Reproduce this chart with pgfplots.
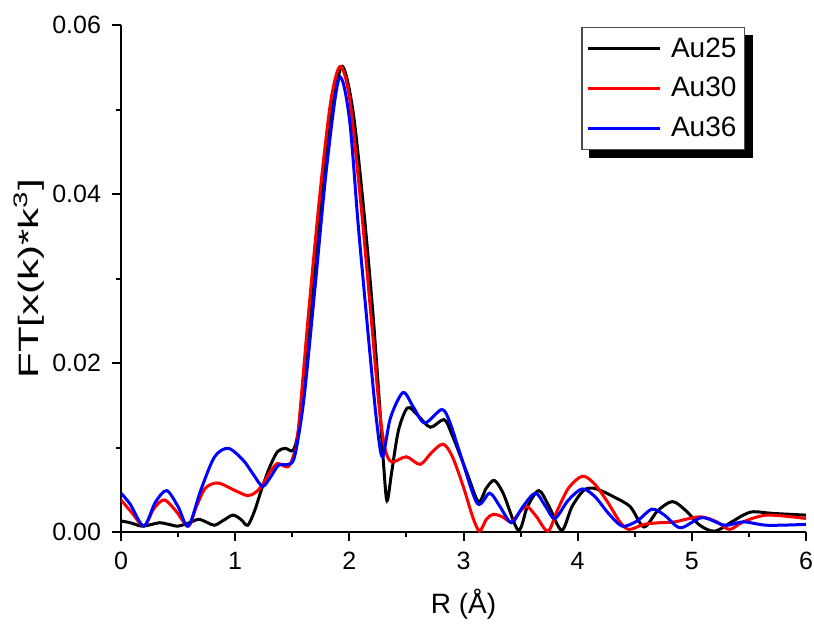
\documentclass[border=0pt]{standalone}
\usepackage{pgfplots}
\pgfplotsset{compat=1.18}
\usepackage{fontspec}
\setmainfont{Liberation Sans}
\pgfdeclarelayer{background}
\pgfsetlayers{background,main}
\pgfplotsset{
  legend image code/.code={\draw[#1] (0pt,0pt) -- (36pt,0pt);},
}
\begin{document}
\begin{tikzpicture}
\useasboundingbox (-60.5pt,-45.5pt) rectangle (346.5pt,266pt);
\begin{axis}[
  at={(0,0)}, anchor=south west,
  scale only axis, width=342.5pt, height=253.5pt,
  xmin=0, xmax=6, ymin=0, ymax=0.06,
  scaled y ticks=false, scaled x ticks=false,
  axis x line*=bottom, axis y line*=left,
  axis line style={line width=1pt},
  xtick={0,1,2,3,4,5,6}, xticklabels={0,1,2,3,4,5,6},
  ytick={0,0.02,0.04,0.06}, yticklabels={0.00,0.02,0.04,0.06},
  minor x tick num=1, minor y tick num=1,
  tick align=outside, major tick length=4.5pt, minor tick length=2.5pt,
  every tick/.style={black, line width=1pt},
  tick label style={font=\fontsize{12.5}{14}\selectfont},
  xticklabel style={yshift=-2pt},
  yticklabel style={xshift=-2pt},
  xlabel={R (Å)}, ylabel={\scalebox{1.5}[1]{FT[x(k)*k\textsuperscript{3}]}},
  label style={font=\fontsize{14}{16}\selectfont},
  xlabel style={at={(axis description cs:0.5,0)}, anchor=center, yshift=-36pt},
  ylabel style={at={(axis description cs:0,0.5)}, anchor=center, xshift=0pt, yshift=46pt},
  legend style={name=leg, at={(0.911,0.996)}, anchor=north east, draw=black!70, line width=0.6pt, fill=white,
    font=\fontsize{14}{16}\selectfont, row sep=4.5pt, column sep=3pt, inner xsep=2pt, inner ysep=3pt},
  legend cell align=left,
  every axis plot/.append style={line width=1.5pt, smooth, tension=0.5},
]
\addplot[black] coordinates {(0,0.0013) (0.08,0.0011) (0.18,0.0007) (0.27,0.0009) (0.34,0.0011) (0.42,0.0009) (0.5,0.0007) (0.6,0.0011) (0.68,0.0015) (0.76,0.0011) (0.82,0.0008) (0.9,0.0014) (0.98,0.0020) (1.05,0.0015) (1.11,0.0008) (1.17,0.0025) (1.23,0.0050) (1.30,0.0076) (1.37,0.0095) (1.44,0.0099) (1.51,0.0097) (1.56,0.0125) (1.62,0.020) (1.68,0.029) (1.77,0.041) (1.86,0.0508) (1.94,0.0551) (2.03,0.050) (2.12,0.039) (2.2,0.027) (2.26,0.016) (2.30,0.008) (2.33,0.0037) (2.37,0.007) (2.43,0.012) (2.51,0.0147) (2.6,0.0138) (2.71,0.0124) (2.83,0.0133) (2.9,0.0115) (3.03,0.007) (3.13,0.0036) (3.2,0.0052) (3.27,0.0061) (3.35,0.0045) (3.48,0.0002) (3.56,0.003) (3.66,0.0049) (3.75,0.003) (3.86,0.0002) (3.95,0.003) (4.05,0.0049) (4.13,0.0052) (4.22,0.0048) (4.31,0.0042) (4.46,0.003) (4.58,0.0006) (4.7,0.0025) (4.83,0.0036) (4.95,0.0025) (5.07,0.0008) (5.2,0.0001) (5.35,0.0012) (5.45,0.002) (5.54,0.0024) (5.71,0.0022) (6,0.002)};
\addlegendentry{Au25}
\addplot[red] coordinates {(0,0.0038) (0.1,0.0022) (0.2,0.0007) (0.29,0.0028) (0.38,0.0038) (0.48,0.0025) (0.59,0.0007) (0.66,0.003) (0.74,0.0052) (0.85,0.0058) (1.0,0.0049) (1.11,0.0043) (1.18,0.0047) (1.24,0.0056) (1.3,0.007) (1.37,0.0081) (1.46,0.0077) (1.51,0.009) (1.55,0.0117) (1.65,0.027) (1.75,0.041) (1.84,0.0512) (1.92,0.0551) (2.0,0.0515) (2.1,0.039) (2.2,0.024) (2.26,0.015) (2.31,0.010) (2.37,0.0083) (2.5,0.0089) (2.62,0.008) (2.72,0.0094) (2.82,0.0104) (2.9,0.009) (3.0,0.0053) (3.08,0.0018) (3.14,0.0001) (3.2,0.0015) (3.26,0.0021) (3.34,0.0018) (3.42,0.0012) (3.5,0.0025) (3.56,0.003) (3.64,0.0018) (3.74,0.0001) (3.82,0.0025) (3.92,0.0052) (4.04,0.0066) (4.14,0.0058) (4.25,0.0038) (4.37,0.0012) (4.45,0.0003) (4.58,0.0009) (4.72,0.0011) (4.85,0.0012) (5.07,0.0018) (5.22,0.0012) (5.33,0.0003) (5.45,0.0012) (5.66,0.002) (6,0.0016)};
\addlegendentry{Au30}
\addplot[blue] coordinates {(0,0.0046) (0.08,0.0033) (0.2,0.0007) (0.3,0.0035) (0.4,0.0049) (0.5,0.003) (0.59,0.0007) (0.7,0.005) (0.82,0.0089) (0.94,0.0099) (1.07,0.0085) (1.16,0.0068) (1.24,0.0054) (1.31,0.0065) (1.38,0.0079) (1.46,0.008) (1.52,0.0089) (1.6,0.0155) (1.7,0.029) (1.8,0.043) (1.91,0.0537) (2.0,0.049) (2.08,0.036) (2.18,0.0212) (2.24,0.013) (2.29,0.0089) (2.36,0.0135) (2.47,0.0165) (2.56,0.0148) (2.66,0.0129) (2.81,0.0145) (2.88,0.013) (2.97,0.0093) (3.12,0.0034) (3.23,0.0046) (3.32,0.003) (3.42,0.0011) (3.52,0.003) (3.63,0.0046) (3.72,0.003) (3.8,0.0016) (3.92,0.0038) (4.04,0.0051) (4.15,0.0042) (4.27,0.0022) (4.39,0.0007) (4.52,0.0013) (4.65,0.0027) (4.76,0.002) (4.9,0.0005) (5.09,0.0017) (5.29,0.0008) (5.45,0.0012) (5.66,0.0008) (6,0.0009)};
\addlegendentry{Au36}
\end{axis}
\begin{pgfonlayer}{background}
\fill[black] ([xshift=4pt,yshift=-4pt]leg.south west) rectangle ([xshift=4pt,yshift=-4pt]leg.north east);
\end{pgfonlayer}
\end{tikzpicture}
\end{document}
